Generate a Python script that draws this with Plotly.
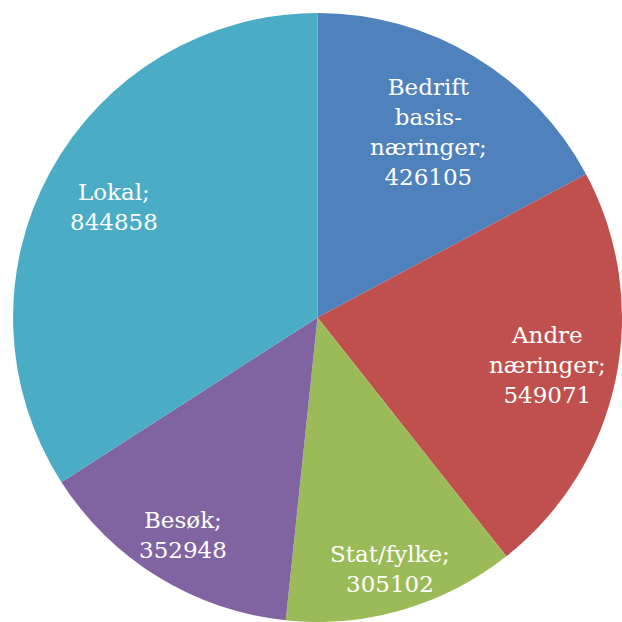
import math
import plotly.graph_objects as go

# Category names as printed on the slices (line breaks included)
categories = [
    "Bedrift<br>basis-<br>næringer",
    "Andre<br>næringer",
    "Stat/fylke",
    "Besøk",
    "Lokal",
]
values = [426105, 549071, 305102, 352948, 844858]
colors = ["#4F81BD", "#C0504D", "#9BBB59", "#8064A2", "#4BACC6"]

# Radial placement of each data label (fraction of the pie radius)
label_radius = [0.71, 0.77, 0.86, 0.84, 0.76]

W = H = 622
dom_x = [0.021, 1.0]
dom_y = [0.0, 0.979]

fig = go.Figure(
    go.Pie(
        labels=categories,
        values=values,
        sort=False,
        direction="clockwise",
        rotation=0,
        marker=dict(colors=colors, line=dict(width=0)),
        textinfo="none",
        hoverinfo="label+value",
        domain=dict(x=dom_x, y=dom_y),
        showlegend=False,
    )
)

# Pie geometry in pixels (margins are zero)
cx = (dom_x[0] + dom_x[1]) / 2 * W
cy = (1 - (dom_y[0] + dom_y[1]) / 2) * H
R = min((dom_x[1] - dom_x[0]) * W, (dom_y[1] - dom_y[0]) * H) / 2

total = sum(values)
cum = 0.0
for name, v, rf in zip(categories, values, label_radius):
    mid = (cum + v / 2) / total * 2 * math.pi
    cum += v
    px = cx + rf * R * math.sin(mid)
    py = cy - rf * R * math.cos(mid)
    fig.add_annotation(
        x=px / W,
        y=1 - py / H,
        xref="paper",
        yref="paper",
        text=f"{name};<br>{v}",
        showarrow=False,
        xanchor="center",
        yanchor="middle",
        align="center",
        font=dict(family="DejaVu Serif", size=23, color="white"),
    )

fig.update_layout(
    width=W,
    height=H,
    margin=dict(l=0, r=0, t=0, b=0),
    paper_bgcolor="white",
    plot_bgcolor="white",
)

fig.write_html("out.html")
